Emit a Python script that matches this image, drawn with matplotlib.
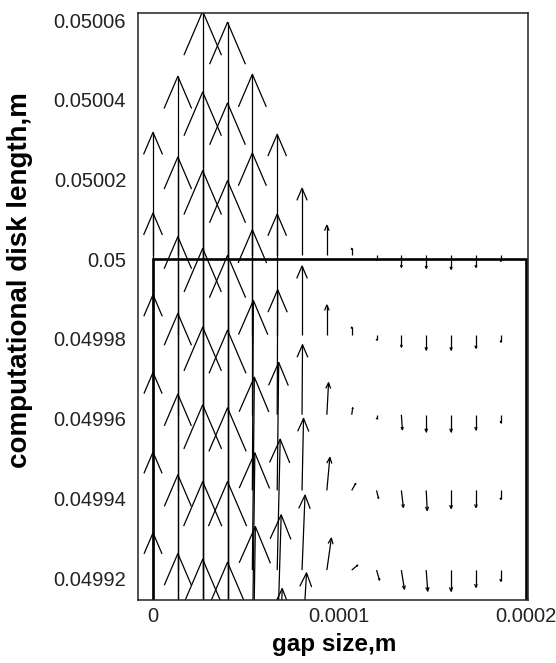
import numpy as np
import matplotlib
matplotlib.use("Agg")
import matplotlib.pyplot as plt
from matplotlib.collections import LineCollection

plt.rcParams['font.family'] = ['Liberation Sans', 'DejaVu Sans']

# grid of the velocity field (gap position, disk length position of arrow tails)
gap_x = [0.0, 1.333e-5, 2.667e-5, 4.0e-5, 5.333e-5, 6.667e-5, 8.0e-5, 9.333e-5,
         1.0667e-4, 1.2e-4, 1.3333e-4, 1.4667e-4, 1.6e-4, 1.7333e-4, 1.8667e-4]
disk_y = [0.050001, 0.049981, 0.049961, 0.049942, 0.049922, 0.049902, 0.049882, 0.049862]

nan = np.nan
# axial velocity (rows = disk_y, columns = gap_x)
v_axial = [
    [1.23, 1.79, 2.44, 2.33, 1.81, 1.21, 0.67, 0.30, 0.07, -0.05, -0.12, -0.13, -0.14, -0.12, -0.06],
    [1.22, 1.78, 2.43, 2.32, 1.82, 1.21, 0.69, 0.30, 0.08, -0.05, -0.12, -0.15, -0.15, -0.13, -0.07],
    [1.20, 1.78, 2.44, 2.34, 1.85, 1.25, 0.70, 0.32, 0.07, -0.04, -0.15, -0.17, -0.17, -0.15, -0.08],
    [1.18, 1.77, 2.42, 2.35, 1.90, 1.28, 0.72, 0.33, 0.07, -0.08, -0.17, -0.20, -0.18, -0.17, -0.09],
    [1.18, 1.76, 2.43, 2.40, 1.93, 1.31, 0.75, 0.32, 0.05, -0.10, -0.19, -0.21, -0.21, -0.17, -0.11],
    [1.17, 1.75, 2.45, 2.42, 1.97, 1.35, 0.77, nan, nan, nan, nan, nan, nan, nan, nan],
    [nan, 1.76, 2.48, 2.48, 2.03, 1.41, nan, nan, nan, nan, nan, nan, nan, nan, nan],
    [nan, nan, 2.50, 2.47, nan, nan, nan, nan, nan, nan, nan, nan, nan, nan, nan],
]
# radial velocity
u_radial = [
    [0, 0, 0, 0, 0.000, 0.000, 0.000, 0.000, 0.00, 0.00, 0.00, 0.000, 0, 0, 0],
    [0, 0, 0, 0, 0.000, 0.000, 0.000, 0.000, 0.00, 0.00, 0.00, 0.000, 0, 0, 0],
    [0, 0, 0, 0, 0.000, 0.005, 0.005, 0.017, 0.01, 0.00, 0.01, 0.000, 0, 0, 0],
    [0, 0, 0, 0, 0.010, 0.015, 0.015, 0.030, 0.04, 0.02, 0.02, 0.010, 0, 0, 0],
    [0, 0, 0, 0, 0.020, 0.030, 0.030, 0.045, 0.06, 0.03, 0.03, 0.015, 0, 0, 0],
    [0, 0, 0, 0, 0.025, 0.040, 0.045, nan, nan, nan, nan, nan, nan, nan, nan],
    [nan, 0, 0, 0, 0.030, 0.050, nan, nan, nan, nan, nan, nan, nan, nan, nan],
    [nan, nan, 0, 0, nan, nan, nan, nan, nan, nan, nan, nan, nan, nan, nan],
]

x_ticks = [0, 0.0001, 0.0002]
x_ticklabels = ['0', '0.0001', '0.0002']
y_ticks = [0.04992, 0.04994, 0.04996, 0.04998, 0.05, 0.05002, 0.05004, 0.05006]
y_ticklabels = ['0.04992', '0.04994', '0.04996', '0.04998', '0.05', '0.05002', '0.05004', '0.05006']

# fluid domain outline
domain_x = [0.0, 0.0, 0.0002, 0.0002]
domain_y = [0.0498, 0.05, 0.05, 0.0498]

fig = plt.figure(figsize=(5.56, 6.63), dpi=100)
ax = fig.add_axes([0.2482, 0.0950, 0.7014, 0.8854])
ax.set_xlim(-8.06e-6, 0.0002013)
ax.set_ylim(0.0499145, 0.0500618)

ax.plot(domain_x, domain_y, color='black', lw=1.9, solid_joinstyle='miter')

# draw arrows in pixel space so the heads keep their shape
scale = 100.0  # px per velocity unit
T = ax.transData
inv = T.inverted()
segs = []
for r, yy in enumerate(disk_y):
    for c, xx in enumerate(gap_x):
        u = u_radial[r][c]
        v = v_axial[r][c]
        if np.isnan(u) or np.isnan(v):
            continue
        p0 = T.transform((xx, yy))
        d = np.array([u, v]) * scale
        L = np.hypot(*d)
        if L == 0:
            continue
        p1 = p0 + d
        e = d / L
        n = np.array([-e[1], e[0]])
        hl, hw = 0.18 * L, 0.077 * L
        w1 = p1 - e * hl + n * hw
        w2 = p1 - e * hl - n * hw
        segs.append(inv.transform(np.array([p0, p1])))
        segs.append(inv.transform(np.array([w1, p1, w2])))

ax.add_collection(LineCollection(segs, colors='black', linewidths=0.9))

ax.set_xticks(x_ticks)
ax.set_xticklabels(x_ticklabels)
ax.set_yticks(y_ticks)
ax.set_yticklabels(y_ticklabels)
ax.tick_params(axis='both', length=0, labelsize=14.5, colors='#222222')
ax.tick_params(axis='x', pad=5)
ax.tick_params(axis='y', pad=8.5)
for s in ax.spines.values():
    s.set_linewidth(1.1)
    s.set_color('#222222')

ax.set_xlabel('gap size,m', fontsize=17.5, fontweight='bold')
ax.set_ylabel('computational disk length,m', fontsize=20, fontweight='bold')
ax.xaxis.set_label_coords(0.504, -0.075)
ax.xaxis.label.set_va('center')
ax.yaxis.set_label_coords(-0.303, 0.545)
ax.yaxis.label.set_va('center')

fig.savefig('out.png', dpi=100)
